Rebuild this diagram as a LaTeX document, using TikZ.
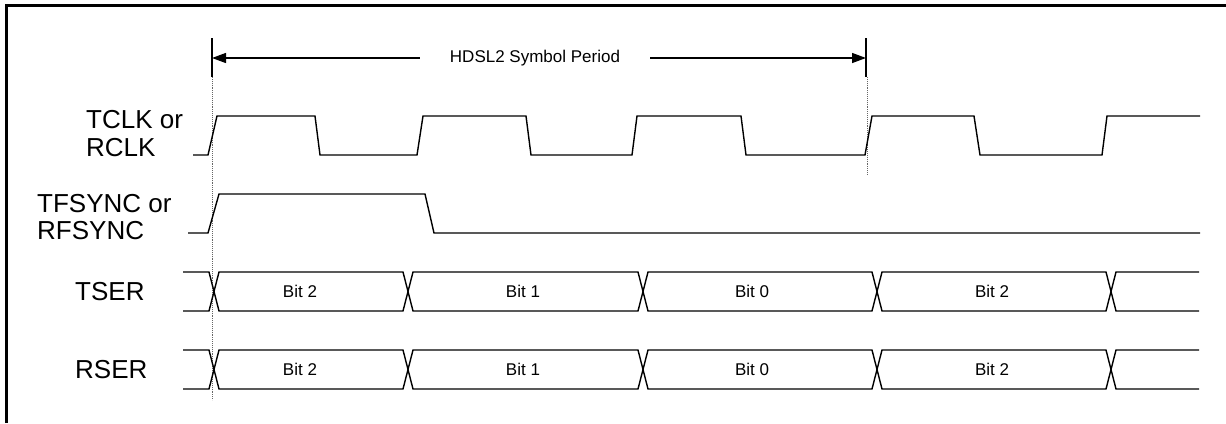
\documentclass[tikz,border=0pt]{standalone}
\usepackage{fontspec}
\setmainfont{Liberation Sans}
\usetikzlibrary{arrows.meta}
\begin{document}
\begin{tikzpicture}[x=1pt,y=-1pt,
  sig/.style={line width=1.4pt, line join=miter, line cap=butt},
  frame/.style={line width=3pt},
  guide/.style={densely dotted, line width=0.9pt, black!60},
  tick/.style={line width=1.3pt},
  dimarrow/.style={line width=1.3pt, -{Triangle[length=14pt,width=10pt]}},
  biglbl/.style={anchor=base west, inner sep=0pt, font=\fontsize{26}{28}\selectfont},
  bitlbl/.style={inner sep=0pt, font=\fontsize{17}{19}\selectfont},
  periodlbl/.style={inner ysep=0pt, inner xsep=30pt, font=\fontsize{17}{19}\selectfont}]
\useasboundingbox (0,0) rectangle (1226,423);
% frame (top and left edges)
\draw[frame] (6,423) -- (6,5) -- (1226,5);
% period markers
\coordinate (pl) at (212,58);
\coordinate (pr) at (866,58);
\draw[tick] (212,38) -- (212,77);
\draw[tick] (866,38) -- (866,77);
\node[periodlbl] (hd) at (535,58) {HDSL2 Symbol Period};
\draw[dimarrow] (hd.west) -- (pl);
\draw[dimarrow] (hd.east) -- (pr);
% guide lines
\draw[guide] (212,77) -- (212,400);
\draw[guide] (867,77) -- (867,175);
% signal names
\node[biglbl] (l1) at (86,128) {TCLK or};
\node[biglbl] (l2) at (86,156) {RCLK};
\node[biglbl] (l3) at (37,212) {TFSYNC or};
\node[biglbl] (l4) at (37,239) {RFSYNC};
\node[biglbl] (l5) at (75,300.5) {TSER};
\node[biglbl] (l6) at (75,378.5) {RSER};
% TCLK / RCLK
\draw[sig] (193,155) -- (208,155) -- (217,116) -- (315,116) -- (320,155) -- (417,155) -- (423,116) -- (526,116) -- (531,155) -- (632,155) -- (637,116) -- (741,116) -- (746,155) -- (865,155) -- (872,116) -- (974,116) -- (980,155) -- (1102,155) -- (1107,116) -- (1200,116);
% TFSYNC / RFSYNC
\draw[sig] (188,233) -- (208,233) -- (219,194) -- (425,194) -- (434,233) -- (1200,233);
% TSER
\draw[sig] (183,272) -- (209,272) -- (219,311) -- (403,311) -- (413,272) -- (638,272) -- (648,311) -- (872,311) -- (882,272) -- (1106,272) -- (1116,311) -- (1199,311);
\draw[sig] (183,311) -- (209,311) -- (219,272) -- (403,272) -- (413,311) -- (638,311) -- (648,272) -- (872,272) -- (882,311) -- (1106,311) -- (1116,272) -- (1199,272);
% RSER
\draw[sig] (183,350) -- (209,350) -- (219,389) -- (403,389) -- (413,350) -- (638,350) -- (648,389) -- (872,389) -- (882,350) -- (1106,350) -- (1116,389) -- (1199,389);
\draw[sig] (183,389) -- (209,389) -- (219,350) -- (403,350) -- (413,389) -- (638,389) -- (648,350) -- (872,350) -- (882,389) -- (1106,389) -- (1116,350) -- (1199,350);
% bit labels
\node[bitlbl] (t1) at (300,291.5) {Bit 2};
\node[bitlbl] (t2) at (523,291.5) {Bit 1};
\node[bitlbl] (t3) at (752,291.5) {Bit 0};
\node[bitlbl] (t4) at (992,291.5) {Bit 2};
\node[bitlbl] (r1) at (300,369.5) {Bit 2};
\node[bitlbl] (r2) at (523,369.5) {Bit 1};
\node[bitlbl] (r3) at (752,369.5) {Bit 0};
\node[bitlbl] (r4) at (992,369.5) {Bit 2};
\end{tikzpicture}
\end{document}
